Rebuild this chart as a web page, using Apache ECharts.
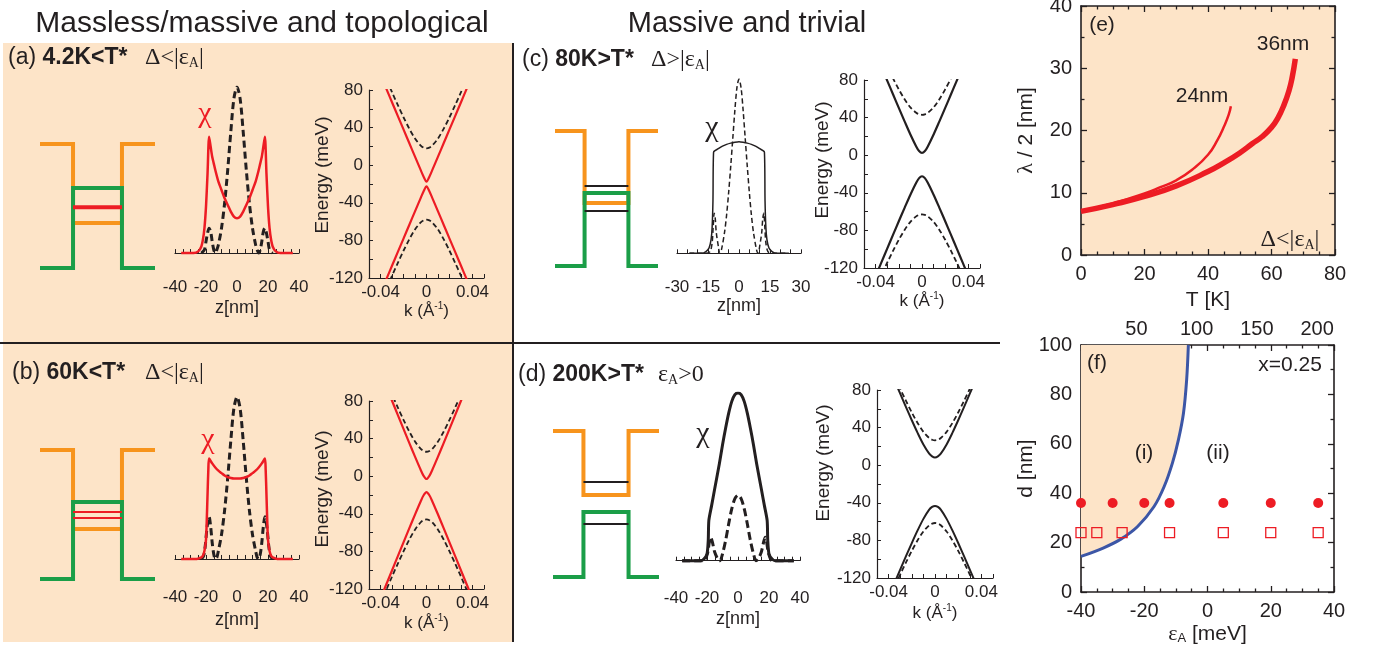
<!DOCTYPE html>
<html lang="en">
<head>
<meta charset="UTF-8">
<title>Quantum well figure</title>
<style>html,body{margin:0;padding:0;background:#fff;}</style>
</head>
<body>
<div id="main" style="width:1376px;height:654px;"></div>
<script src="https://cdn.jsdelivr.net/npm/echarts@6/dist/echarts.min.js"></script>
<script>
// ---------- data ----------
// well schematics: x in well units (walls at -1 / 1), y: 0 = green barrier, 1 = orange barrier
var wellX = [-2.35, -1, 1, 2.35];
var orangeBottom = [0.363, 0.388, 0.467, 0.562];   // a, b, c, d
var greenTop = [0.645, 0.597, 0.541, 0.445];
var levelsA = [0.49];
var levelsB = [0.519, 0.473];
var levelsC = [0.593, 0.407];
var levelsD = [0.651, 0.363];

// chi(z), [z nm, amplitude]
var chiRedA = [[-36,0],[-28,0],[-25,0.01],[-23,0.04],[-22,0.08],[-21,0.15],[-20,0.28],[-19,0.48],[-18,0.70],[-17,0.64],[-16,0.58],[-15,0.54],[-14,0.50],[-12,0.43],[-10,0.38],[-8,0.33],[-6,0.29],[-4,0.25],[-2,0.22],[0,0.21],
  [2,0.22],[4,0.25],[6,0.29],[8,0.33],[10,0.38],[12,0.43],[14,0.50],[15,0.54],[16,0.58],[17,0.64],[18,0.70],[19,0.48],[20,0.28],[21,0.15],[22,0.08],[23,0.04],[25,0.01],[28,0],[36,0]];
var chiDashA = [[-23,0],[-21,0.02],[-20,0.07],[-19,0.12],[-18,0.15],[-17,0.13],[-16,0.07],[-15,0.02],[-14,0],[-13,0.02],[-12,0.05],[-10,0.15],[-8,0.3],[-6,0.5],[-4,0.73],[-2,0.93],[0,1],
  [2,0.93],[4,0.73],[6,0.5],[8,0.3],[10,0.15],[12,0.05],[13,0.02],[14,0],[15,0.02],[16,0.07],[17,0.13],[18,0.15],[19,0.12],[20,0.07],[21,0.02],[23,0]];
var chiRedB = [[-36,0],[-26,0],[-23,0.01],[-22,0.02],[-21,0.05],[-20,0.12],[-19.5,0.24],[-19,0.4],[-18.5,0.55],[-18,0.62],[-16,0.59],[-14,0.565],[-12,0.545],[-10,0.53],[-8,0.515],[-6,0.505],[-4,0.5],[-2,0.497],[0,0.497],
  [2,0.497],[4,0.5],[6,0.505],[8,0.515],[10,0.53],[12,0.545],[14,0.565],[16,0.59],[18,0.62],[18.5,0.55],[19,0.4],[19.5,0.24],[20,0.12],[21,0.05],[22,0.02],[23,0.01],[26,0],[36,0]];
var chiDashB = [[-23,0],[-21.5,0.02],[-20.5,0.08],[-19.5,0.18],[-18.5,0.25],[-18,0.26],[-17,0.2],[-16,0.1],[-15,0.03],[-14,0],[-13,0.01],[-12,0.05],[-10,0.15],[-8,0.3],[-6,0.5],[-4,0.73],[-2,0.93],[0,1],
  [2,0.93],[4,0.73],[6,0.5],[8,0.3],[10,0.15],[12,0.05],[13,0.01],[14,0],[15,0.03],[16,0.1],[17,0.2],[18,0.26],[18.5,0.25],[19.5,0.18],[20.5,0.08],[21.5,0.02],[23,0]];
var chiSolidC = [[-24,0],[-18,0],[-16,0.01],[-14.5,0.03],[-13.5,0.08],[-13,0.15],[-12.6,0.3],[-12.3,0.58],[-10,0.6],[-8,0.615],[-6,0.625],[-4,0.632],[-2,0.637],[0,0.64],
  [2,0.637],[4,0.632],[6,0.625],[8,0.615],[10,0.6],[12.3,0.58],[12.6,0.3],[13,0.15],[13.5,0.08],[14.5,0.03],[16,0.01],[18,0],[24,0]];
var chiDashC = [[-24,0],[-16,0],[-14,0.01],[-13,0.06],[-12.5,0.15],[-12,0.23],[-11.5,0.2],[-11,0.12],[-10,0.04],[-9.3,0],[-8.5,0.02],[-7,0.12],[-6,0.22],[-5,0.35],[-4,0.5],[-3,0.66],[-2,0.82],[-1,0.95],[0,1],
  [1,0.95],[2,0.82],[3,0.66],[4,0.5],[5,0.35],[6,0.22],[7,0.12],[8.5,0.02],[9.3,0],[10,0.04],[11,0.12],[11.5,0.2],[12,0.23],[12.5,0.15],[13,0.06],[14,0.01],[16,0],[24,0]];
var chiSolidD = [[-36,0],[-24,0],[-22,0.01],[-20,0.04],[-19.2,0.12],[-18.8,0.24],[-17,0.33],[-15,0.43],[-12,0.58],[-10,0.69],[-8,0.79],[-6,0.88],[-4,0.95],[-2,0.99],[0,1],
  [2,0.99],[4,0.95],[6,0.88],[8,0.79],[10,0.69],[12,0.58],[15,0.43],[17,0.33],[18.8,0.24],[19.2,0.12],[20,0.04],[22,0.01],[24,0],[36,0]];
var chiDashD = [[-36,0],[-22,0],[-21,0.01],[-19.5,0.05],[-18.5,0.11],[-17.6,0.14],[-16.5,0.11],[-15,0.05],[-13,0.01],[-11.6,0],[-10,0.04],[-8,0.12],[-6,0.22],[-4,0.31],[-2,0.37],[0,0.39],
  [2,0.37],[4,0.31],[6,0.22],[8,0.12],[10,0.04],[11.6,0],[13,0.01],[15,0.05],[16.5,0.11],[17.6,0.14],[18.5,0.11],[19.5,0.05],[21,0.01],[22,0],[36,0]];

// band dispersions E(k) in meV on a shared k grid (1/A)
var kGrid = [-0.04,-0.035,-0.03,-0.025,-0.02,-0.015,-0.01,-0.005,-0.0025,0,0.0025,0.005,0.01,0.015,0.02,0.025,0.03,0.035,0.04];
var eUpA = [96.0,81.5,67.0,52.5,38.1,23.6,9.1,-5.3,-12.3,-17.5,-12.3,-5.3,9.1,23.6,38.1,52.5,67.0,81.5,96.0];
var eDnA = [-136.0,-121.5,-107.0,-92.5,-78.1,-63.6,-49.1,-34.7,-27.7,-22.5,-27.7,-34.7,-49.1,-63.6,-78.1,-92.5,-107.0,-121.5,-136.0];
var eDashUpA = [105.9,91.7,77.7,64.1,51.0,38.9,28.4,20.9,18.7,18.0,18.7,20.9,28.4,38.9,51.0,64.1,77.7,91.7,105.9];
var eDashDnA = [-145.9,-131.7,-117.7,-104.1,-91.0,-78.9,-68.4,-60.9,-58.7,-58.0,-58.7,-60.9,-68.4,-78.9,-91.0,-104.1,-117.7,-131.7,-145.9];
var eUpB = [110.2,95.2,80.3,65.3,50.4,35.5,20.8,6.6,0.3,-3.0,0.3,6.6,20.8,35.5,50.4,65.3,80.3,95.2,110.2];
var eDnB = [-130.2,-115.2,-100.3,-85.3,-70.4,-55.5,-40.8,-26.6,-20.3,-17.0,-20.3,-26.6,-40.8,-55.5,-70.4,-85.3,-100.3,-115.2,-130.2];
var eDashUpB = [115.3,101.0,86.9,73.2,60.0,47.6,36.9,29.0,26.8,26.0,26.8,29.0,36.9,47.6,60.0,73.2,86.9,101.0,115.3];
var eDashDnB = [-135.3,-121.0,-106.9,-93.2,-80.0,-67.6,-56.9,-49.0,-46.8,-46.0,-46.8,-49.0,-56.9,-67.6,-80.0,-93.2,-106.9,-121.0,-135.3];
var eUpC = [108.7,94.0,79.4,64.8,50.3,36.0,22.0,9.3,4.4,2.4,4.4,9.3,22.0,36.0,50.3,64.8,79.4,94.0,108.7];
var eDnC = [-128.7,-114.0,-99.4,-84.8,-70.3,-56.0,-42.0,-29.3,-24.4,-22.4,-24.4,-29.3,-42.0,-56.0,-70.3,-84.8,-99.4,-114.0,-128.7];
var eDashUpC = [121.2,107.6,94.4,81.8,70.0,59.5,50.9,45.1,43.5,43.0,43.5,45.1,50.9,59.5,70.0,81.8,94.4,107.6,121.2];
var eDashDnC = [-141.2,-127.6,-114.4,-101.8,-90.0,-79.5,-70.9,-65.1,-63.5,-63.0,-63.5,-65.1,-70.9,-79.5,-90.0,-101.8,-114.4,-127.6,-141.2];
var eUpD = [105.2,90.6,76.1,61.8,47.8,34.4,22.1,12.3,9.4,8.3,9.4,12.3,22.1,34.4,47.8,61.8,76.1,90.6,105.2];
var eDnD = [-140.2,-125.6,-111.1,-96.8,-82.8,-69.4,-57.1,-47.3,-44.4,-43.3,-44.4,-47.3,-57.1,-69.4,-82.8,-96.8,-111.1,-125.6,-140.2];
var eDashUpD = [108.4,94.7,81.3,68.4,56.1,44.9,35.5,28.9,27.1,26.5,27.1,28.9,35.5,44.9,56.1,68.4,81.3,94.7,108.4];
var eDashDnD = [-143.4,-129.7,-116.3,-103.4,-91.1,-79.9,-70.5,-63.9,-62.1,-61.5,-62.1,-63.9,-70.5,-79.9,-91.1,-103.4,-116.3,-129.7,-143.4];

// (e) lambda/2 vs T, [T K, nm]
var lam36 = [[0,7.0],[10,8.1],[20,9.4],[30,11.1],[40,13.4],[45,14.8],[50,16.4],[54,17.9],[57,19.0],[60,20.5],[62,22.0],[64,24.2],[65.5,26.4],[66.5,28.5],[67.5,31.5]];
var lam24 = [[0,7.1],[10,8.3],[20,9.9],[25,10.9],[30,12.0],[35,13.7],[40,16.1],[43,18.5],[45,20.6],[46.5,22.5],[47.2,23.9]];

// (f) phase boundary and sample points, [eps_A meV, d nm]
var boundary = [[-40,14.4],[-33,17.8],[-27.4,21.4],[-22.1,26.5],[-16.9,34.6],[-13.7,42.7],[-11.1,52.2],[-9.2,61.6],[-7.6,72.4],[-6.6,85.8],[-6.05,100]];
var epsFilled = [-40,-30,-20,-12,5,20,35];
var epsOpen = [-40,-35,-27,-12,5,20,35];
var dFilled = 36;
var dOpen = 24;
var topLabels = [50, 100, 150, 200];

// ---------- styling ----------
var FONT = '"Liberation Sans", Arial, Helvetica, sans-serif';
var SERIF = '"Liberation Serif", "Times New Roman", serif';
var INK = '#231f20';
var RED = '#ed1c24';
var ORANGE = '#f7941d';
var GREEN = '#1b9e48';
var BLUE = '#3c56a6';
var PEACH = '#fde4c8';

var grids = [], xAxes = [], yAxes = [], series = [];

function addGrid(b, extra) {
    var g = {left: b[0], top: b[1], width: b[2], height: b[3], containLabel: false, outerBoundsMode: 'none'};
    if (extra) for (var k in extra) g[k] = extra[k];
    grids.push(g);
    return grids.length - 1;
}
function line(xi, yi, data, color, width, type, smooth, clip) {
    return {type: 'line', xAxisIndex: xi, yAxisIndex: yi, data: data, symbol: 'none', silent: true,
        smooth: smooth || 0, clip: clip !== false,
        lineStyle: {color: color, width: width, type: type || 'solid', cap: 'butt', join: 'miter'}};
}
function pairs(ys) {
    return kGrid.map(function (k, i) { return [k, ys[i]]; });
}
function kLabel(v) {
    var r = Math.round(v * 100);
    if (r % 4 !== 0) return '';
    return r === 0 ? '0' : (r / 100).toFixed(2);
}

// layout boxes [left, top, width, height]
var wellBoxes = [[40,144,115,124],[40,450,115,129],[555,131,103,135],[553,431,106,146]];
var chiBoxes = [[175,87,124,184],[175,397,124,184],[677,79,124,192],[676,393,124,189]];
var eBoxes = [[369,90,115,188],[369,401,115,188],[864,80,116,188],[877,390,116,188]];
var chiRange = [[-40,40,20,4],[-40,40,20,4],[-30,30,15,3],[-40,40,20,4]];
var chiMin = [-0.108,-0.136,-0.1015,-0.127];
var chiNameGap = [28,30,26,28];
var eNameGapX = [23,24,23,25];
var eNameGapY = [37,37,32,44];
var eNameShift = [18,12,28,42];

var levels = [levelsA, levelsB, levelsC, levelsD];
var levelStyle = [[RED,4],[RED,2],[INK,2],[INK,2]];
var chiSets = [
    {dash: chiDashA, solid: chiRedA, color: RED, w: 2.5, dw: 3, dt: [7,4]},
    {dash: chiDashB, solid: chiRedB, color: RED, w: 2.5, dw: 3, dt: [7,4]},
    {dash: chiDashC, solid: chiSolidC, color: INK, w: 1.5, dw: 1.5, dt: [5,3]},
    {dash: chiDashD, solid: chiSolidD, color: INK, w: 3, dw: 3, dt: [8,4]}
];
var eSets = [
    {up: eUpA, dn: eDnA, du: eDashUpA, dd: eDashDnA, color: RED, w: 2.2},
    {up: eUpB, dn: eDnB, du: eDashUpB, dd: eDashDnB, color: RED, w: 2.2},
    {up: eUpC, dn: eDnC, du: eDashUpC, dd: eDashDnC, color: INK, w: 2.2},
    {up: eUpD, dn: eDnD, du: eDashUpD, dd: eDashDnD, color: INK, w: 2}
];

for (var p = 0; p < 4; p++) {
    // well schematic
    var gw = addGrid(wellBoxes[p]);
    xAxes.push({gridIndex: gw, type: 'value', min: -2.35, max: 2.35, show: false});
    yAxes.push({gridIndex: gw, type: 'value', min: 0, max: 1, show: false});
    var ob = orangeBottom[p], gt = greenTop[p];
    series.push(line(gw, gw, [[wellX[0],1],[wellX[1],1],[wellX[1],ob],[wellX[2],ob],[wellX[2],1],[wellX[3],1]], ORANGE, 4, 'solid', 0, false));
    series.push(line(gw, gw, [[wellX[0],0],[wellX[1],0],[wellX[1],gt],[wellX[2],gt],[wellX[2],0],[wellX[3],0]], GREEN, 4, 'solid', 0, false));
    levels[p].forEach(function (lv) {
        series.push(line(gw, gw, [[wellX[1], lv], [wellX[2], lv]], levelStyle[p][0], levelStyle[p][1], 'solid', 0, false));
    });

    // chi(z)
    var gc = addGrid(chiBoxes[p]);
    var cr = chiRange[p];
    xAxes.push({gridIndex: gc, type: 'value', min: cr[0], max: cr[1], interval: cr[2],
        axisLine: {show: true, lineStyle: {color: INK, width: 1.2}},
        axisTick: {show: true, inside: true, length: 4, lineStyle: {color: INK, width: 1}},
        minorTick: {show: true, splitNumber: cr[3], length: 4, lineStyle: {color: INK, width: 1}},
        splitLine: {show: false},
        axisLabel: {margin: 8, fontSize: 17, color: INK, fontFamily: FONT},
        name: 'z[nm]', nameLocation: 'middle', nameGap: chiNameGap[p], nameMoveOverlap: false,
        nameTextStyle: {fontSize: 18, color: INK, fontFamily: FONT}});
    yAxes.push({gridIndex: gc, type: 'value', min: chiMin[p], max: 1, show: false});
    var cs = chiSets[p];
    series.push(line(gc, gc, cs.dash, INK, cs.dw, cs.dt, 0.3));
    series.push(line(gc, gc, cs.solid, cs.color, cs.w, 'solid', 0.25));

    // E(k)
    var ge = addGrid(eBoxes[p]);
    xAxes.push({gridIndex: ge, type: 'value', min: -0.05, max: 0.05, interval: 0.01,
        axisLine: {show: true, onZero: false, lineStyle: {color: INK, width: 1.2}},
        axisTick: {show: true, inside: true, length: 4, lineStyle: {color: INK, width: 1}},
        splitLine: {show: false},
        axisLabel: {margin: 6, fontSize: 17, color: INK, fontFamily: FONT, formatter: kLabel, showMinLabel: true, showMaxLabel: true},
        name: '{n|k (Å}{s|-1}{n|)}', nameLocation: 'middle', nameGap: eNameGapX[p], nameMoveOverlap: false,
        nameTextStyle: {rich: {
            n: {fontSize: 17, fontFamily: FONT, color: INK, lineHeight: 20},
            s: {fontSize: 10, fontFamily: FONT, color: INK, verticalAlign: 'top', lineHeight: 8}
        }}});
    yAxes.push({gridIndex: ge, type: 'value', min: -120, max: 80, interval: 40,
        axisLine: {show: true, onZero: false, lineStyle: {color: INK, width: 1.2}},
        axisTick: {show: true, inside: true, length: 4, lineStyle: {color: INK, width: 1}},
        minorTick: {show: true, splitNumber: 2, length: 4, lineStyle: {color: INK, width: 1}},
        splitLine: {show: false},
        axisLabel: {margin: 6, fontSize: 17, color: INK, fontFamily: FONT},
        name: 'Energy (meV)', nameLocation: 'middle', nameGap: eNameGapY[p], nameMoveOverlap: false,
        nameTextStyle: {fontSize: 19, color: INK, fontFamily: FONT, padding: [0, 0, 0, eNameShift[p]]}});
    var es = eSets[p];
    series.push(line(ge, ge, pairs(es.du), INK, 1.8, [5,3], 0.3));
    series.push(line(ge, ge, pairs(es.dd), INK, 1.8, [5,3], 0.3));
    series.push(line(ge, ge, pairs(es.up), es.color, es.w, 'solid', 0.3));
    series.push(line(ge, ge, pairs(es.dn), es.color, es.w, 'solid', 0.3));
}

// ---------- (e) ----------
function boxAxis(gi, pos, min, max, interval, split, show, extra) {
    var a = {gridIndex: gi, type: 'value', position: pos, min: min, max: max, interval: interval,
        axisLine: {show: true, onZero: false, lineStyle: {color: INK, width: 1.6}},
        axisTick: {show: true, inside: true, length: 6, lineStyle: {color: INK, width: 1.3}},
        minorTick: {show: true, splitNumber: split, length: 3.5, lineStyle: {color: INK, width: 1.3}},
        splitLine: {show: false},
        axisLabel: {show: show, margin: 9, fontSize: 20, color: INK, fontFamily: FONT}};
    if (extra) for (var k in extra) a[k] = extra[k];
    return a;
}
var ge5 = addGrid([1081, 6, 254, 249], {show: true, backgroundColor: PEACH, borderWidth: 0});
var xe = xAxes.length;
xAxes.push(boxAxis(ge5, 'bottom', 0, 80, 20, 4, true, {name: 'T [K]', nameLocation: 'middle', nameGap: 35, nameMoveOverlap: false,
    nameTextStyle: {fontSize: 21, color: INK, fontFamily: FONT}}));
xAxes.push(boxAxis(ge5, 'top', 0, 80, 20, 4, false));
var ye = yAxes.length;
yAxes.push(boxAxis(ge5, 'left', 0, 40, 10, 2, true, {name: '{g|λ}{n| / 2 [nm]}', nameLocation: 'middle', nameGap: 44, nameMoveOverlap: false,
    nameTextStyle: {rich: {g: {fontSize: 22, fontFamily: SERIF, color: INK}, n: {fontSize: 21, fontFamily: FONT, color: INK}}}}));
yAxes.push(boxAxis(ge5, 'right', 0, 40, 10, 2, false));
series.push({type: 'line', xAxisIndex: xe, yAxisIndex: ye, data: lam24, symbol: 'none', smooth: 0.5, silent: true,
    lineStyle: {color: RED, width: 2.5}});
series.push({type: 'line', xAxisIndex: xe, yAxisIndex: ye, data: lam36, symbol: 'none', smooth: 0.5, silent: true,
    lineStyle: {color: RED, width: 5.5}});

// ---------- (f) ----------
var gf = addGrid([1081, 345, 253, 247]);
var xf = xAxes.length;
xAxes.push(boxAxis(gf, 'bottom', -40, 40, 20, 4, true, {name: '{e|ε}{s|A}{n| [meV]}', nameLocation: 'middle', nameGap: 31, nameMoveOverlap: false,
    nameTextStyle: {rich: {
        e: {fontSize: 22, fontFamily: SERIF, color: INK, lineHeight: 22},
        s: {fontSize: 13, fontFamily: FONT, color: INK, verticalAlign: 'bottom', lineHeight: 6},
        n: {fontSize: 21, fontFamily: FONT, color: INK, lineHeight: 22}
    }}}));
xAxes.push(boxAxis(gf, 'top', -40, 40, 20, 4, false));
xAxes.push({gridIndex: gf, type: 'value', position: 'top', min: 4, max: 214, interval: 2,
    axisLine: {show: false}, axisTick: {show: false}, splitLine: {show: false},
    axisLabel: {margin: 6, fontSize: 20, color: INK, fontFamily: FONT,
        formatter: function (v) { return topLabels.indexOf(Math.round(v)) >= 0 ? String(Math.round(v)) : ''; }}});
var yf = yAxes.length;
yAxes.push(boxAxis(gf, 'left', 0, 100, 20, 2, true, {name: 'd [nm]', nameLocation: 'middle', nameGap: 44, nameMoveOverlap: false,
    nameTextStyle: {fontSize: 21, color: INK, fontFamily: FONT}}));
yAxes.push(boxAxis(gf, 'right', 0, 100, 20, 2, false));
series.push({type: 'line', xAxisIndex: xf, yAxisIndex: yf, data: boundary, symbol: 'none', smooth: 0.35, silent: true,
    lineStyle: {color: BLUE, width: 3}, areaStyle: {color: PEACH, opacity: 1, origin: 'end'}, z: 1});
series.push({type: 'scatter', xAxisIndex: xf, yAxisIndex: yf, symbol: 'circle', symbolSize: 10, silent: true,
    data: epsFilled.map(function (e) { return [e, dFilled]; }), itemStyle: {color: RED, opacity: 1}, z: 5});
series.push({type: 'scatter', xAxisIndex: xf, yAxisIndex: yf, symbol: 'rect', symbolSize: 10, silent: true,
    data: epsOpen.map(function (e) { return [e, dOpen]; }),
    itemStyle: {color: 'rgba(255,255,255,0)', borderColor: RED, borderWidth: 1.3, opacity: 1}, z: 5});

// ---------- texts and frame ----------
function txt(x, y, text, size, o) {
    o = o || {};
    var st = {text: text, fontSize: size, fontFamily: o.family || FONT, fontWeight: o.weight || 'normal',
        fill: o.color || INK, align: o.align || 'center', verticalAlign: 'middle'};
    if (o.rich) st.rich = o.rich;
    return {type: 'text', x: x, y: y, z: 100, silent: true, style: st};
}
var labRich = {
    n: {fontSize: 23, fontFamily: FONT, fill: INK},
    b: {fontSize: 23, fontFamily: FONT, fontWeight: 'bold', fill: INK}
};
var serRich = {
    s: {fontSize: 24, fontFamily: SERIF, fill: INK},
    u: {fontSize: 14, fontFamily: SERIF, fill: INK, verticalAlign: 'bottom', lineHeight: 6}
};
var graphics = [
    {type: 'rect', z: -10, silent: true, shape: {x: 3, y: 43, width: 510, height: 599}, style: {fill: PEACH}},
    {type: 'line', z: 50, silent: true, shape: {x1: 0, y1: 343, x2: 1000, y2: 343}, style: {stroke: INK, lineWidth: 2}},
    {type: 'line', z: 50, silent: true, shape: {x1: 513, y1: 43, x2: 513, y2: 642}, style: {stroke: INK, lineWidth: 2}},
    txt(262, 24, 'Massless/massive and topological', 30),
    txt(747, 24, 'Massive and trivial', 29),
    txt(8, 58, '{n|(a) }{b|4.2K<T*}', 23, {align: 'left', rich: labRich}),
    txt(145, 58, '{s|Δ<|ε}{u|A}{s||}', 24, {align: 'left', rich: serRich}),
    txt(12, 373, '{n|(b) }{b|60K<T*}', 23, {align: 'left', rich: labRich}),
    txt(145, 373, '{s|Δ<|ε}{u|A}{s||}', 24, {align: 'left', rich: serRich}),
    txt(522, 60, '{n|(c) }{b|80K>T*}', 23, {align: 'left', rich: labRich}),
    txt(651, 60, '{s|Δ>|ε}{u|A}{s||}', 24, {align: 'left', rich: serRich}),
    txt(518, 375, '{n|(d) }{b|200K>T*}', 23, {align: 'left', rich: labRich}),
    txt(658, 375, '{s|ε}{u|A}{s|>0}', 24, {align: 'left', rich: serRich}),
    txt(205, 114, 'χ', 30, {family: SERIF, color: RED}),
    txt(208, 440, 'χ', 30, {family: SERIF, color: RED}),
    txt(712, 128, 'χ', 30, {family: SERIF}),
    txt(703, 434, 'χ', 30, {family: SERIF}),
    txt(1102, 25, '(e)', 21),
    txt(1202, 96, '24nm', 21),
    txt(1283, 44, '36nm', 21),
    txt(1290, 240, '{s|Δ<|ε}{u|A}{s||}', 24, {rich: serRich}),
    txt(1097, 363, '(f)', 21),
    txt(1290, 365, 'x=0.25', 21),
    txt(1144, 453, '(i)', 21),
    txt(1218, 453, '(ii)', 21)
];

var myChart = echarts.init(document.getElementById('main'));
myChart.setOption({
    animation: false,
    backgroundColor: '#ffffff',
    grid: grids,
    xAxis: xAxes,
    yAxis: yAxes,
    series: series,
    graphic: {elements: graphics}
});
</script>
</body>
</html>
